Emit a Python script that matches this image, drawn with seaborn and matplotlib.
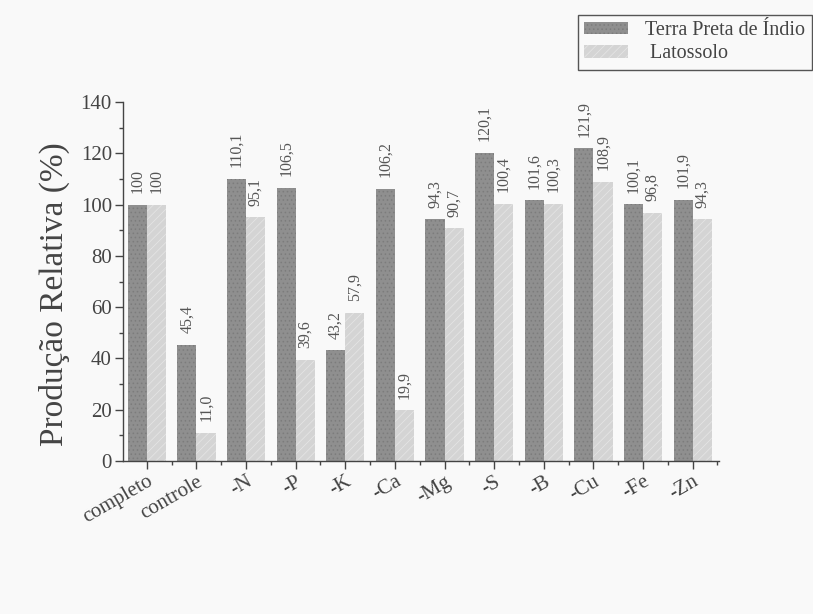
import matplotlib
matplotlib.use("Agg")
import matplotlib.pyplot as plt
from matplotlib.ticker import MultipleLocator
from matplotlib.patches import Patch
import seaborn as sns
import pandas as pd

categorias = ["completo", "controle", "-N", "-P", "-K", "-Ca", "-Mg", "-S", "-B", "-Cu", "-Fe", "-Zn"]
terra_preta = [100, 45.4, 110.1, 106.5, 43.2, 106.2, 94.3, 120.1, 101.6, 121.9, 100.1, 101.9]
latossolo = [100, 11.0, 95.1, 39.6, 57.9, 19.9, 90.7, 100.4, 100.3, 108.9, 96.8, 94.3]
series = ["Terra Preta de Índio", "Latossolo"]
rotulos_legenda = ["Terra Preta de Índio", " Latossolo"]

df = pd.DataFrame({
    "cat": categorias * 2,
    "valor": terra_preta + latossolo,
    "solo": [series[0]] * len(categorias) + [series[1]] * len(categorias),
})

sns.set_style("white")
plt.rcParams["font.family"] = ["Liberation Serif", "DejaVu Serif"]
plt.rcParams["hatch.linewidth"] = 0.6

bg = "#f9f9f9"
fig = plt.figure(figsize=(8.13, 6.14), dpi=100, facecolor=bg)
ax = fig.add_axes([0.1513, 0.249, 0.733, 0.585], facecolor=bg)

cores = {series[0]: "#8f8f8f", series[1]: "#d4d4d4"}
sns.barplot(data=df, x="cat", y="valor", hue="solo", palette=cores,
            width=0.77, ax=ax, legend=False, saturation=1, linewidth=0)

hatches = ["....", "////"]
hatch_cols = ["#7c7c7c", "#e4e4e4"]
for cont, h, hc in zip(ax.containers, hatches, hatch_cols):
    for b in cont:
        b.set_hatch(h)
        b.set_edgecolor(hc)
        b.set_linewidth(0)

# rotated value labels above each bar
for cont, vals in zip(ax.containers, [terra_preta, latossolo]):
    for b, v in zip(cont, vals):
        txt = "100" if v == 100 else f"{v:.1f}".replace(".", ",")
        ax.text(b.get_x() + b.get_width() / 2, v + 4.5, txt, rotation=90,
                ha="center", va="bottom", fontsize=11.5, color="#555555")

ax.set_ylim(0, 140)
ax.set_xlim(-0.48, 11.53)
ax.yaxis.set_major_locator(MultipleLocator(20))
ax.yaxis.set_minor_locator(MultipleLocator(10))
ax.xaxis.set_minor_locator(MultipleLocator(0.5))

for s in ["top", "right"]:
    ax.spines[s].set_visible(False)
for s in ["left", "bottom"]:
    ax.spines[s].set_color("#444444")
    ax.spines[s].set_linewidth(1.0)

ax.tick_params(axis="both", which="major", direction="out", length=6, width=1,
               color="#444444", labelsize=15, labelcolor="#444444", pad=2)
ax.tick_params(axis="both", which="minor", direction="out", length=3, width=1,
               color="#444444")
ax.tick_params(axis="y", which="both", left=True)
ax.tick_params(axis="x", which="both", bottom=True)

ax.set_xticks(range(len(categorias)))
ax.set_xticklabels(categorias, rotation=30, ha="right", rotation_mode="anchor")
ax.set_xlabel("")
ax.set_ylabel("Produção Relativa (%)", fontsize=24, color="#444444")
ax.yaxis.set_label_coords(-0.089, 0.465)

handles = [Patch(facecolor=cores[s], edgecolor=hc, hatch=h, linewidth=0)
           for s, h, hc in zip(series, hatches, hatch_cols)]
leg = fig.legend(handles, rotulos_legenda, loc="upper left",
                 bbox_to_anchor=(578 / 813, 1 - 15 / 614), frameon=True,
                 fontsize=14.5, fancybox=False, edgecolor="#555555",
                 handlelength=2.2, handleheight=0.6, borderpad=0.3,
                 labelspacing=0.22, handletextpad=0.85, borderaxespad=0,
                 framealpha=1)
leg.get_frame().set_facecolor(bg)
for t in leg.get_texts():
    t.set_color("#444444")

fig.savefig("out.png", dpi=100, facecolor=bg)
